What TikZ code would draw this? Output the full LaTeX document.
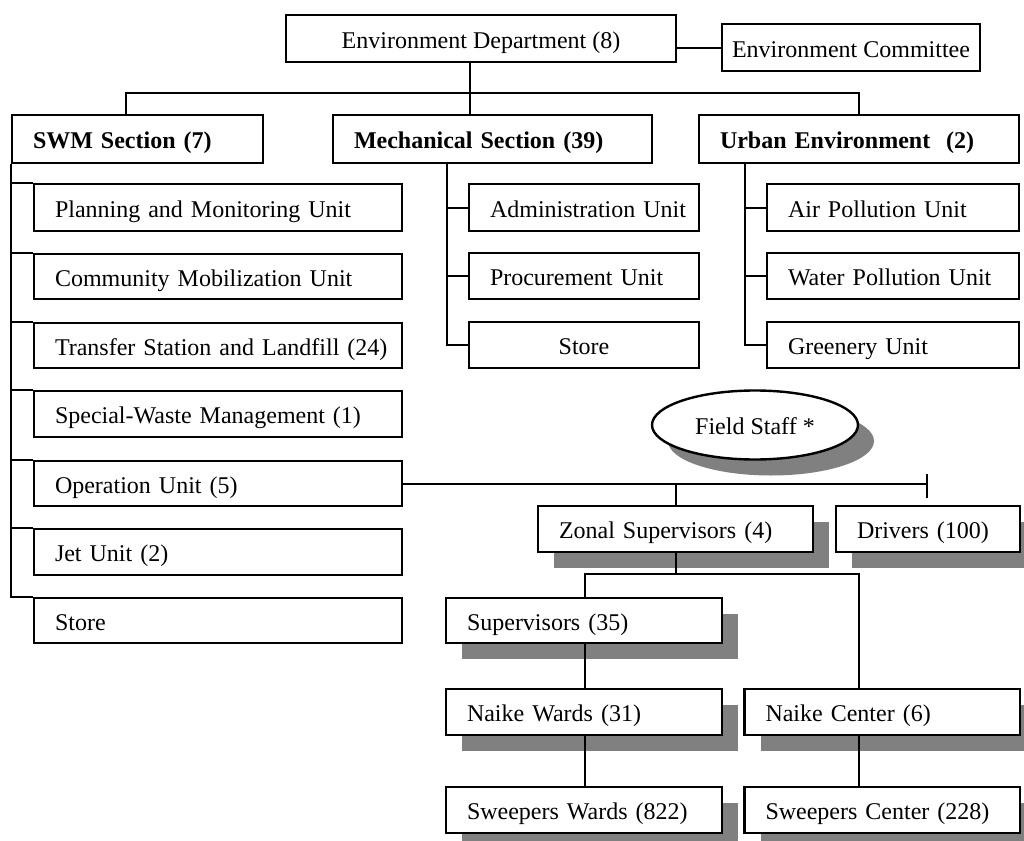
\documentclass[tikz,border=0pt]{standalone}
\usepackage{fontspec}
\setmainfont{Liberation Serif}
\usetikzlibrary{shapes.geometric,shadows,calc}
\definecolor{shadowgray}{HTML}{808080}

% Box from corner coordinates (in px units): [style]{name}{x1}{y1}{x2}{y2}{text}
\newcommand\obox[7][]{%
  \pgfmathsetmacro\obw{(#5-#3)*0.5}%
  \pgfmathsetmacro\obh{(#6-#4)*0.5}%
  \pgfmathsetmacro\obtw{\obw-21}%
  \pgfmathsetmacro\obcx{(#3+#5)/2}%
  \pgfmathsetmacro\obcy{(#4+#6)/2}%
  \node[orgbox, minimum width=\obw pt, minimum height=\obh pt,
        text width=\obtw pt, #1] (#2) at (\obcx,\obcy) {\mbox{#7}};%
}

\tikzset{
  orgbox/.style={draw=black, fill=white, line width=1.2pt, rectangle,
    inner xsep=10.5pt, inner ysep=0pt, align=left,
    text height=9.5pt, text depth=0pt,
    font=\fontsize{12}{14}\selectfont},
  centred/.style={text width=, align=center, inner xsep=1pt},
  topsec/.style={font=\fontsize{12}{14}\selectfont\bfseries},
  shadowed/.style={drop shadow={shadow xshift=8pt, shadow yshift=-8pt,
    opacity=1, fill=shadowgray}},
  link/.style={draw=black, line width=1pt},
}

\begin{document}
\begin{tikzpicture}[x=0.5pt, y=-0.5pt]
\useasboundingbox (0,0) rectangle (1024,841);
\clip (0,0) rectangle (1024,841);

% top level
\obox[centred]{env}{286}{15}{676}{62}{Environment Department (8)}
\obox[centred]{comm}{722}{24}{980}{71}{Environment Committee}
\obox[topsec]{swm}{12}{115}{263}{163}{SWM Section (7)}
\obox[topsec]{mech}{333}{115}{652}{163}{Mechanical Section (39)}
\obox[topsec]{urban}{699}{115}{1019}{163}{Urban Environment\ \ (2)}

% SWM units
\obox{s1}{34}{184}{402}{231}{Planning and Monitoring Unit}
\obox{s2}{34}{254}{402}{299}{Community Mobilization Unit}
\obox{s3}{34}{323}{402}{368}{Transfer Station and Landfill (24)}
\obox{s4}{34}{391}{402}{437}{Special-Waste Management (1)}
\obox{s5}{34}{461}{402}{506}{Operation Unit (5)}
\obox{s6}{34}{529}{402}{575}{Jet Unit (2)}
\obox{s7}{34}{598}{402}{643}{Store}

% Mechanical units
\obox{m1}{469}{184}{699}{231}{Administration Unit}
\obox{m2}{469}{253}{699}{299}{Procurement Unit}
\obox[centred]{m3}{469}{322}{699}{368}{Store}

% Urban environment units
\obox{u1}{767}{184}{1019}{231}{Air Pollution Unit}
\obox{u2}{767}{253}{1019}{299}{Water Pollution Unit}
\obox{u3}{767}{322}{1019}{368}{Greenery Unit}

% field staff
\node[ellipse, draw=black, fill=white, line width=1.2pt, shadowed,
      minimum width=103pt, minimum height=34.5pt, inner sep=0pt,
      text height=9.5pt, text depth=0pt,
      font=\fontsize{12}{14}\selectfont] (fs) at (755,425) {Field Staff *};
\obox[shadowed]{zonal}{538}{506}{813}{552}{Zonal Supervisors (4)}
\obox[shadowed]{drv}{836}{506}{1020}{552}{Drivers (100)}
\obox[shadowed]{sup}{446}{598}{722}{643}{Supervisors (35)}
\obox[shadowed]{nw}{446}{689}{722}{735}{Naike Wards (31)}
\obox[shadowed]{ncen}{744.5}{689}{1020}{735}{Naike Center (6)}
\obox[shadowed]{sw}{446}{787}{722}{833}{Sweepers Wards (822)}
\obox[shadowed]{scen}{744.5}{787}{1020}{833}{Sweepers Center (228)}

% junction points
\coordinate (bc) at (470,93);
\coordinate (bl) at (126,93);
\coordinate (br) at (859,93);
\coordinate (mx) at (447,163);
\coordinate (ux) at (744.5,163);
\coordinate (opend) at (927,483.5);
\coordinate (zb) at (585,574);
\coordinate (nc) at (859,574);

% connectors: department level
\draw[link] (comm.west) -- (comm.west -| env.east);
\draw[link] (bc |- env.south) -- (bc |- mech.north);
\draw[link] (bl |- swm.north) -- (bl) -- (br) -- (urban.north);

% SWM spine
\draw[link] (swm.south west) -- (swm.south west |- s7.north west) -- (s7.north west);
\foreach \n in {s1,s2,s3,s4,s5,s6}
  \draw[link] (swm.south west |- \n.north west) -- (\n.north west);

% Mechanical spine
\draw[link] (mx) -- (mx |- m3.west) -- (m3.west);
\foreach \n in {m1,m2}
  \draw[link] (mx |- \n.west) -- (\n.west);

% Urban spine
\draw[link] (ux) -- (ux |- u3.west) -- (u3.west);
\foreach \n in {u1,u2}
  \draw[link] (ux |- \n.west) -- (\n.west);

% operation unit to field staff
\draw[link] (s5.east) -- (opend);
\draw[link] ($(opend)+(0,-10)$) -- ($(opend)+(0,14)$);
\draw[link] (zonal.north |- opend) -- (zonal.north);
\draw[link] (zonal.south) -- (zonal.south |- zb);
\draw[link] (sup.north -| zb) -- (zb) -- (nc) -- (nc |- ncen.north);
\draw[link] (sup.south -| zb) -- (nw.north -| zb);
\draw[link] (nw.south -| zb) -- (sw.north -| zb);
\draw[link] (nc |- ncen.south) -- (nc |- scen.north);
\end{tikzpicture}
\end{document}
